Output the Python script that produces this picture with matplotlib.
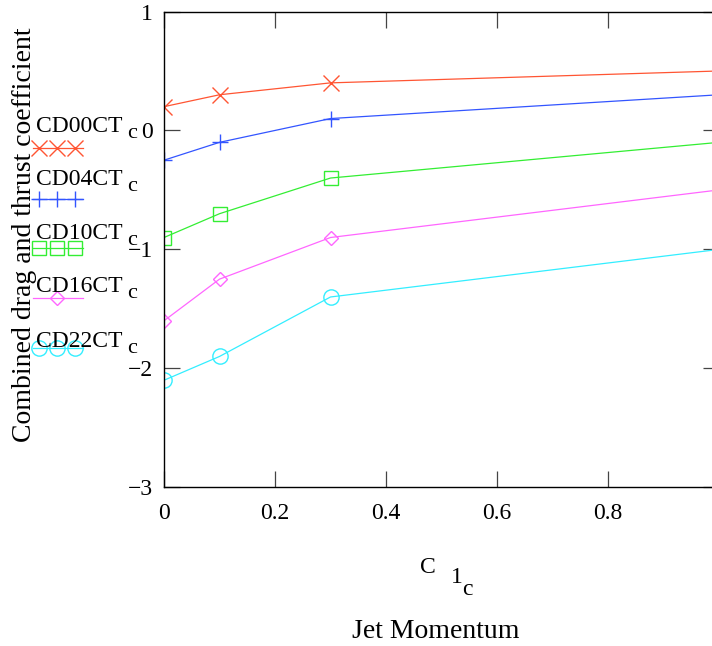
import numpy as np
import matplotlib
matplotlib.use("Agg")
import matplotlib.pyplot as plt
from matplotlib.lines import Line2D

plt.rcParams['font.family'] = ['Liberation Serif', 'DejaVu Serif']
plt.rcParams['mathtext.fontset'] = 'custom'
plt.rcParams['mathtext.rm'] = 'Liberation Serif'

# jet momentum values (x) and combined drag/thrust coefficients per series
jet_momentum = [0.0, 0.1, 0.3, 1.0]
series_names = ["CD00CT", "CD04CT", "CD10CT", "CD16CT", "CD22CT"]
cd00 = [0.20, 0.30, 0.40, 0.50]
cd04 = [-0.25, -0.10, 0.10, 0.30]
cd10 = [-0.90, -0.70, -0.40, -0.10]
cd16 = [-1.60, -1.25, -0.90, -0.50]
cd22 = [-2.10, -1.90, -1.40, -1.00]
x_ticks = [0, 0.2, 0.4, 0.6, 0.8]
y_ticks = [1, 0, -1, -2, -3]

all_series = [cd00, cd04, cd10, cd16, cd22]
colors = ['#ff5533', '#3355ff', '#33ee33', '#ff66ff', '#33eeff']
markers = ['x', '+', 's', 'D', 'o']
msizes = [12, 12, 10, 7.5, 11]

W, H = 712, 646
fig = plt.figure(figsize=(W / 100, H / 100), dpi=100)
ax = fig.add_axes([164 / W, 1 - 487.3 / H, (719 - 164) / W, (487.3 - 11.5) / H])

for vals, col, mk, ms in zip(all_series, colors, markers, msizes):
    ax.plot(jet_momentum, vals, color=col, lw=0.9, marker=mk, ms=ms,
            mfc='none', mec=col, mew=1.0, markevery=[0, 1, 2])

ax.set_xlim(0, 1)
ax.set_ylim(-3, 1)
ax.set_xticks(x_ticks)
ax.set_xticklabels(['0', '0.2', '0.4', '0.6', '0.8'])
ax.set_yticks(y_ticks)
ax.tick_params(direction='in', length=11.5, width=0.9, color='#444444',
               top=True, right=True, labelsize=17)
ax.tick_params(axis='x', pad=11)
ax.tick_params(axis='y', pad=8)
for lab in ax.get_yticklabels():
    lab.set_verticalalignment('center_baseline')
for sp in ax.spines.values():
    sp.set_linewidth(1.0)

# axis titles
fig.text(25 / W, 1 - 235 / H, "Combined drag and thrust coefficient",
         rotation=90, ha='center', va='center', fontsize=20)
fig.text(420 / W, 1 - 573 / H, "C", fontsize=17, va='baseline')
fig.text(451 / W, 1 - 583 / H, "1", fontsize=17, va='baseline')
fig.text(462 / W, 1 - 595 / H, "c", fontsize=17, va='baseline')
fig.text(436 / W, 1 - 638 / H, "Jet Momentum", fontsize=20,
         ha='center', va='baseline')

# legend drawn by hand on the left, overlapping the y label
text_base = [132, 185, 239, 292, 347]
line_y = [148, 199, 248, 298, 348]
for i, name in enumerate(series_names):
    fig.text(36 / W, 1 - text_base[i] / H, name, fontsize=17, va='baseline')
    fig.text(127 / W, 1 - (text_base[i] + 6) / H, "c", fontsize=16, va='baseline')
    ly = 1 - line_y[i] / H
    fig.add_artist(Line2D([33 / W, 83 / W], [ly, ly], color=colors[i], lw=0.9))
    pts = [57] if markers[i] == 'D' else [39, 57, 75]
    fig.add_artist(Line2D([p / W for p in pts], [ly] * len(pts), ls='none',
                          marker=markers[i], ms=msizes[i], mfc='none',
                          mec=colors[i], mew=1.0))

fig.savefig("out.png", dpi=100)
